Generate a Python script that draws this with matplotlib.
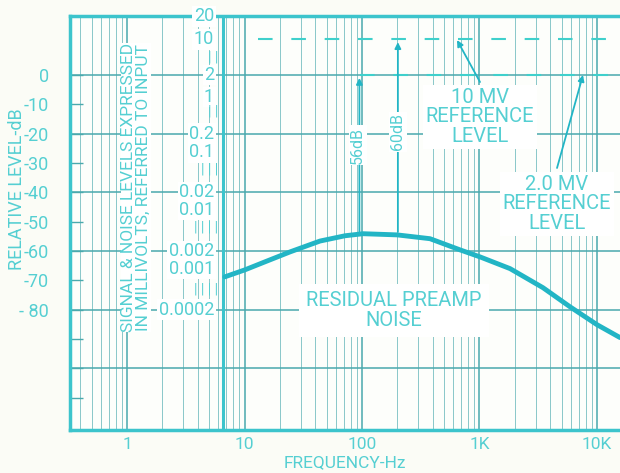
import numpy as np
import matplotlib.pyplot as plt

# curve (Hz, dB)
freq = [6.8, 10.1, 14.9, 24.4, 43.9, 71.7, 102, 199, 379, 682, 1010, 1820, 3470, 5890, 10000, 15700]
level = [-68.8, -66.4, -63.7, -60.3, -56.6, -54.8, -54.1, -54.5, -55.8, -59.6, -62.0, -66.0, -72.5, -79.0, -85.1, -89.5]

db_ticks = [0, -10, -20, -30, -40, -50, -60, -70, -80, -90, -100, -110]
db_labels = ['0', '-10', '-20', '-30', '-40', '-50', '-60', '-70', '- 80', '', '', '']
grid_levels = [0, -20, -40, -60, -80, -100]

mv_labels = ['20', '10', '2', '1', '0.2', '0.1', '0.02', '0.01', '0.002', '0.001', '0.0002']
mv_pos = [20, 12.2, 0, -7.5, -20, -26.3, -40, -46, -60, -66, -80]
mv_marks = ['| |', '| |', '| | |', '| | | |', '| | | |']
mv_mark_pos = [6, -12.6, -32.3, -52, -73]

freq_ticks = [1, 10, 100, 1000, 10000]
freq_labels = ['1', '10', '100', '1K', '10K']

CYAN = '#55cfd2'
LINE = '#22b5c5'
GRID = '#4aa9ad'
plt.rcParams['font.family'] = ['Roboto', 'DejaVu Sans']

fig = plt.figure(figsize=(6.2, 4.73), dpi=100, facecolor='#fbfcf6')
ax = fig.add_axes([70/620, 1-430/473, 550/620, 414/473])
ax.set_facecolor('#fdfefb')
ax.set_xscale('log')
ax.set_xlim(0.327, 15700)
ax.set_ylim(-121, 20.1)

# grid
ax.grid(which='major', axis='x', color=GRID, lw=1.1, zorder=1)
ax.grid(which='minor', axis='x', color=GRID, lw=0.6, alpha=0.75, zorder=1)
for g in grid_levels:
    ax.axhline(g, color=GRID, lw=1.1, zorder=1)
ax.axvline(6.6, color='#3cc4cc', lw=2.2, zorder=1)

for s in ['left', 'top', 'bottom']:
    ax.spines[s].set_color('#3cc4cc')
    ax.spines[s].set_linewidth(2.5)
ax.spines['right'].set_visible(False)

ax.set_xticks(freq_ticks)
ax.set_xticklabels(freq_labels)
ax.set_yticks(db_ticks)
ax.set_yticklabels(db_labels)
ax.tick_params(axis='x', which='both', length=0, pad=5, labelsize=12.5, labelcolor=CYAN)
ax.tick_params(axis='y', direction='in', length=9, width=1, color=GRID, pad=15,
               labelsize=13, labelcolor=CYAN)

# reference lines
ax.plot([13, 15700], [12.2, 12.2], color='#3fd0cc', lw=1.5, dashes=(7, 9), zorder=2)
ax.plot([96, 15700], [0, 0], color='#3fd0cc', lw=1.5, dashes=(7, 9), zorder=2)

ax.plot(freq, level, color=LINE, lw=3.5, solid_capstyle='round', zorder=4)

# millivolt scale
wb = dict(facecolor='white', edgecolor='none', pad=1)
yt = ax.get_yaxis_transform()
for lab, p in zip(mv_labels, mv_pos):
    ax.text(0.262, p, lab, transform=yt, ha='right', va='center', fontsize=13,
            color=CYAN, bbox=wb, zorder=5)
for lab, p in zip(mv_marks, mv_mark_pos):
    ax.text(0.27, p, lab, transform=yt, ha='right', va='center', fontsize=10,
            color=CYAN, zorder=5)

ax.text(0.12, 0.585, 'SIGNAL & NOISE LEVELS EXPRESSED\nIN MILLIVOLTS, REFERRED TO INPUT',
        transform=ax.transAxes, rotation=90, ha='center', va='center', fontsize=12.5,
        color=CYAN, linespacing=1.05, bbox=dict(facecolor='white', edgecolor='none', pad=0),
        zorder=5)

# arrows
ap = dict(arrowstyle='-|>', color=LINE, lw=1.3, mutation_scale=9, shrinkA=0, shrinkB=0)
ax.annotate('', xy=(95, -1), xytext=(95, -53.5), arrowprops=ap, zorder=3)
ax.annotate('', xy=(202, 11.2), xytext=(202, -53.5), arrowprops=ap, zorder=3)
ax.annotate('', xy=(644, 11.9), xytext=(1010, -2.4), arrowprops=ap, zorder=3)
ax.annotate('', xy=(7600, 0), xytext=(4570, -31.7), arrowprops=ap, zorder=3)

ax.text(92, -24, '56dB', rotation=90, ha='center', va='center', fontsize=11.5,
        color=CYAN, bbox=wb, zorder=5)
ax.text(202, -19.4, '60dB', rotation=90, ha='center', va='center', fontsize=11.5,
        color=CYAN, bbox=wb, zorder=5)
ax.text(1010, -14.3, '10 MV\nREFERENCE\nLEVEL', ha='center', va='center', fontsize=14.5,
        color=CYAN, linespacing=1.05, bbox=dict(facecolor='white', edgecolor='none', pad=2),
        zorder=5)
ax.text(4570, -43.9, '2.0 MV\nREFERENCE\nLEVEL', ha='center', va='center', fontsize=14.5,
        color=CYAN, linespacing=1.05, bbox=dict(facecolor='white', edgecolor='none', pad=2),
        zorder=5)
ax.text(187, -80.3, 'RESIDUAL PREAMP\nNOISE', ha='center', va='center', fontsize=14.5,
        color=CYAN, linespacing=1.1, bbox=dict(facecolor='white', edgecolor='none', pad=5),
        zorder=5)

fig.text(17/620, 1-189/473, 'RELATIVE LEVEL-dB', rotation=90, ha='center', va='center',
         fontsize=13, color=CYAN)
fig.text(345/620, 1-463/473, 'FREQUENCY-Hz', ha='center', va='center', fontsize=12.5,
         color=CYAN)

fig.savefig('out.png', dpi=100, facecolor=fig.get_facecolor())
